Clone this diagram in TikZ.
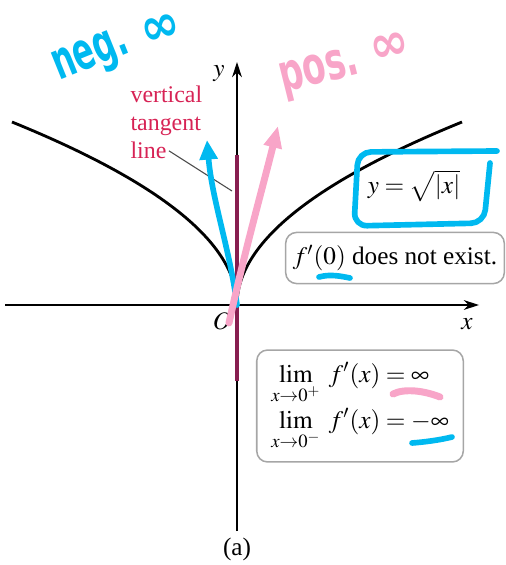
\documentclass[tikz,border=0pt]{standalone}
\usepackage{amsmath,amssymb}
\usepackage{mathptmx}
\usepackage{fontspec}
\setmainfont{Liberation Serif}
\newfontfamily\penfont{DejaVu Sans}
\usetikzlibrary{arrows.meta,positioning,calc}
\definecolor{tanmag}{RGB}{135,30,80}
\definecolor{lblred}{RGB}{215,35,85}
\definecolor{pencyan}{RGB}{0,185,240}
\definecolor{penpink}{RGB}{248,165,200}
\newcommand{\penword}[2]{\scalebox{#1}[1]{#2}}
\tikzset{
  every picture/.style={line width=0.5pt},
  every node/.style={font=\fontsize{11.6}{14}\selectfont},
  sAxis/.style={-{Stealth[length=7pt,width=4.5pt]}},
  sCurve/.style={line width=1.3pt},
  sTangent/.style={draw=tanmag, line width=1.5pt},
  sLabel/.style={text=lblred, inner sep=0pt, anchor=base west,
                 font=\fontsize{11}{13}\selectfont},
  sLeader/.style={draw=black!70, line width=0.5pt},
  sBox/.style={draw=black!35, rounded corners=5pt, line width=0.7pt, fill=white},
  sCyan/.style={draw=pencyan, line width=2.6pt, line cap=round, line join=round},
  sPink/.style={draw=penpink, line width=3.2pt, line cap=round, line join=round},
  sPen/.style={font=\penfont\bfseries\fontsize{24}{24}\selectfont, inner sep=0pt},
}
\begin{document}
\begin{tikzpicture}[x=0.46pt,y=-0.46pt]
  \useasboundingbox (0,0) rectangle (505,565);
  % axes
  \coordinate (O)  at (237,305);
  \coordinate (xL) at (5,305);
  \coordinate (xR) at (479,305);
  \coordinate (yB) at (237,531);
  \coordinate (yT) at (237,62);
  \draw[sAxis] (xL) -- (xR);
  \draw[sAxis] (yB) -- (yT);
  \node (xlab) at (467,324) {$x$};
  \node (ylab) at (219,74)  {$y$};
  \node (Olab) at (222,321) {$O$};
  % y = sqrt|x|, drawn through the cusp
  \draw[sCurve] plot[domain=-15:15, samples=121, variable=\t]
    ({237+\t*abs(\t)}, {305-12.2*abs(\t)});
  \coordinate (tT) at (237,155);
  \coordinate (tB) at (237,381);
  \draw[sTangent] (tT) -- (tB);
  \node[sLabel] (vtl1) at (130,103) {vertical};
  \node[sLabel] (vtl2) at (130,131) {tangent};
  \node[sLabel] (vtl3) at (130,159) {line};
  \coordinate (tanPt) at (232,191);
  \draw[sLeader] (vtl3.east) ++(2,0) -- (tanPt);
  \node (eqn) at (414,186) {$y=\sqrt{|x|}$};
  \node[sBox, minimum width=98pt, minimum height=23.5pt] (fzero) at (395,258)
    {$f'(0)$ does not exist.};
  \node[sBox, align=left, minimum width=95pt, minimum height=51.5pt] (lims) at (360,406)
    {$\displaystyle\lim_{x\to0^+}\; f'(x)=\infty$\\[1pt]
     $\displaystyle\lim_{x\to0^-}\; f'(x)=-\infty$};
  \node (cap) at (237,549) {(a)};
  % pen marks
  \node[sPen, text=pencyan, rotate=22] (negTxt) at (92,58) {\penword{0.6}{neg.}};
  \node[sPen, text=pencyan, rotate=15] (negInf) at (161,30) {\penword{0.9}{∞}};
  \node[sPen, text=penpink, rotate=14] (posTxt) at (320,74) {\penword{0.65}{pos.}};
  \node[sPen, text=penpink, rotate=12] (posInf) at (390,48) {\penword{0.9}{∞}};
  \draw[sCyan, -{Triangle[length=9pt,width=8pt]}] (O)
    .. controls (230,250) and (212,200) .. (207,140);
  \draw[sPink, -{Triangle[length=10pt,width=8pt]}] (229,323)
    .. controls (245,250) and (262,190) .. (278,126);
  \draw[sCyan, rounded corners=6pt] (497,151) -- (358,152) -- (354,226)
    -- (484,223) -- (490,163);
  \draw[sCyan] (319,277) .. controls (330,274) and (340,276) .. (350,278);
  \draw[sPink] (393,394) .. controls (405,388) and (425,391) .. (440,397);
  \draw[sCyan] (412,443) .. controls (425,442) and (440,440) .. (452,437);
\end{tikzpicture}
\end{document}
